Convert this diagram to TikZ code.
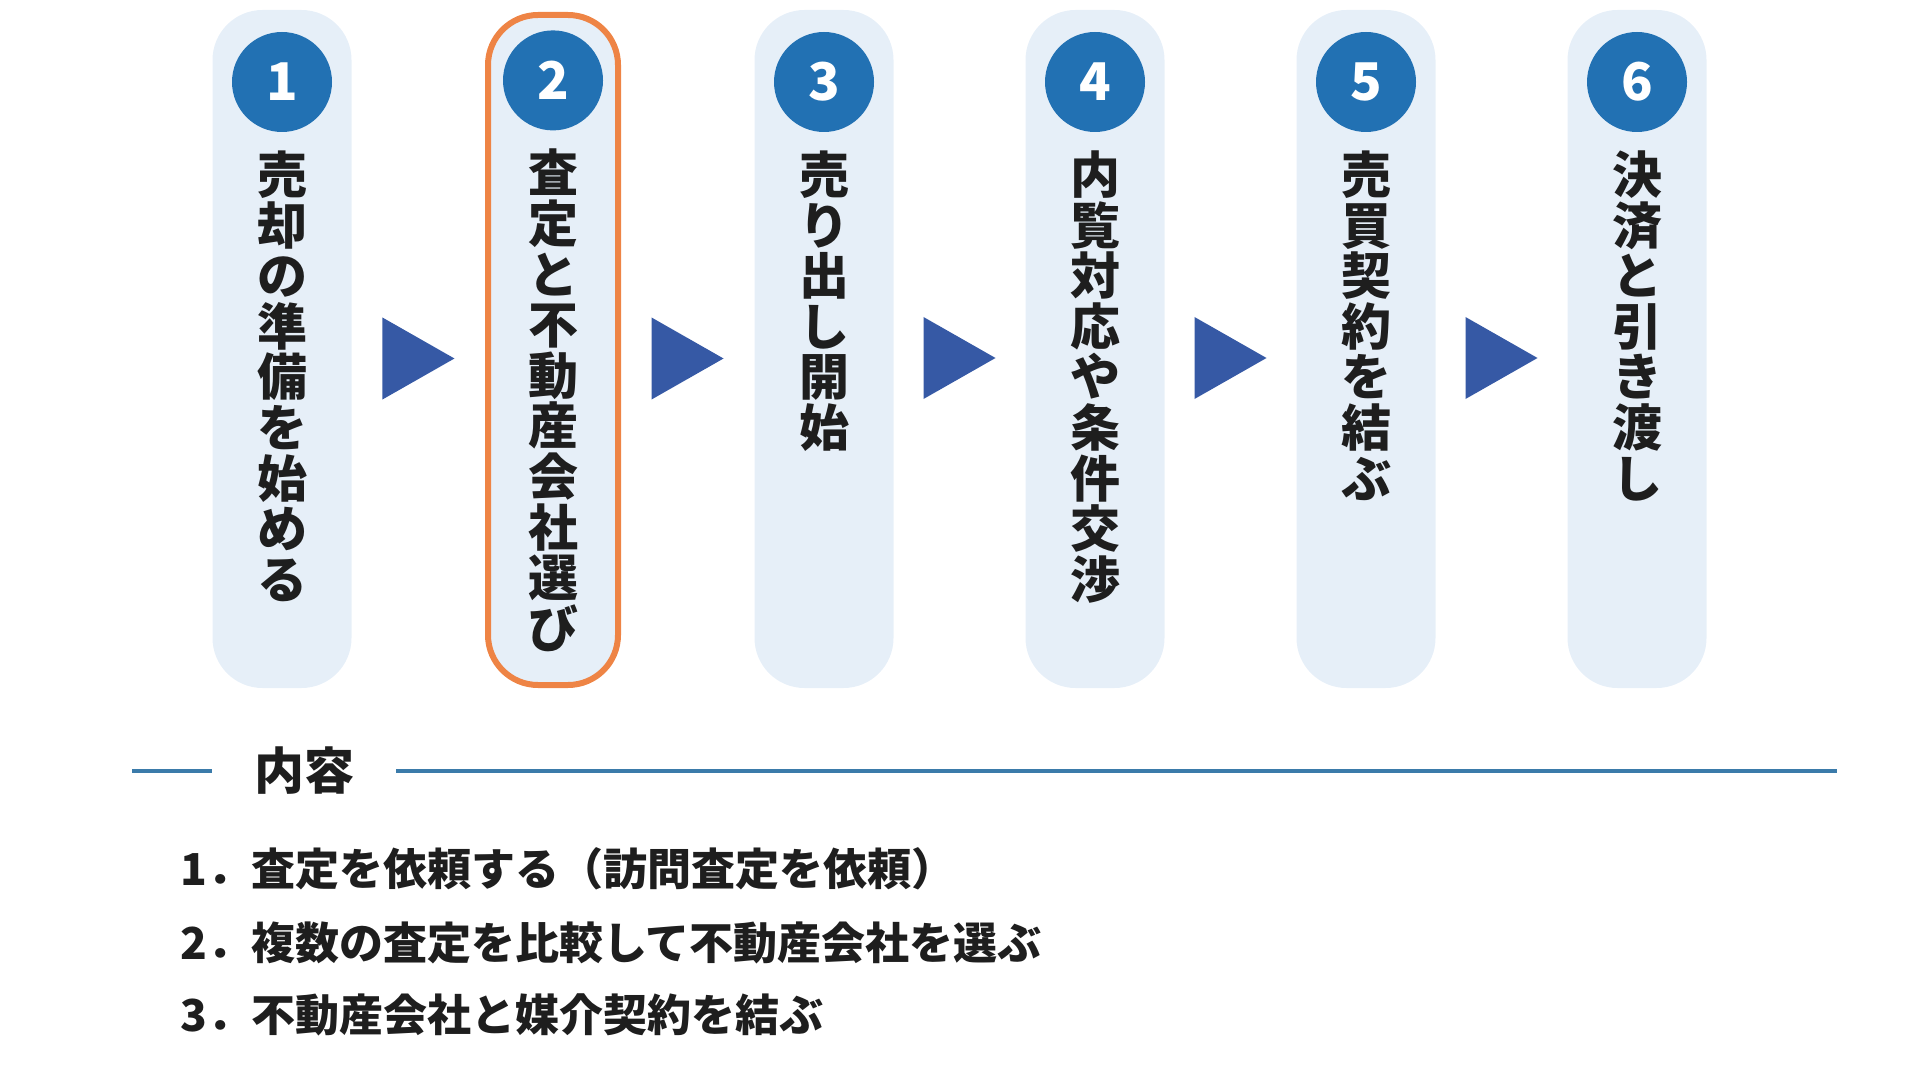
\documentclass[tikz,border=0pt]{standalone}
\usepackage{fontspec}
\setmainfont{Noto Sans CJK JP}
\usepackage{tikz}
\usetikzlibrary{calc}
\usetikzlibrary{positioning}

\definecolor{boxbg}{HTML}{E6EFF8}
\definecolor{numblue}{HTML}{2271B3}
\definecolor{arrowblue}{HTML}{3659A5}
\definecolor{pickorange}{HTML}{EE8445}
\definecolor{ink}{HTML}{1E1E1E}
\definecolor{rulecol}{HTML}{3B7BAA}

\begin{document}
\begin{tikzpicture}[x=1pt, y=-1pt,
    stepbox/.style={rectangle, rounded corners=25pt, fill=boxbg, minimum width=69.5pt, minimum height=339pt, inner sep=0pt},
    chosen/.style={draw=pickorange, line width=3pt, minimum width=65pt, minimum height=335pt},
    numdot/.style={circle, fill=numblue, text=white, minimum size=50pt, inner sep=0pt, font=\bfseries\fontsize{26pt}{26pt}\selectfont},
    steptext/.style={align=center, inner sep=0pt, text=ink, font=\bfseries\fontsize{25pt}{25.3pt}\selectfont},
    pointer/.style={fill=arrowblue},
    rule/.style={draw=rulecol, line width=2pt},
    listitem/.style={anchor=west, inner sep=0pt, text=ink, font=\bfseries\fontsize{22pt}{22pt}\selectfont}
    ]
    \useasboundingbox (0,0) rectangle (960,540);

    \node[stepbox] (b1) at (141,174.5) {};
    \node[stepbox, chosen] (b2) at (276.5,175) {};
    \node[stepbox] (b3) at (412,174.5) {};
    \node[stepbox] (b4) at (547.5,174.5) {};
    \node[stepbox] (b5) at (683,174.5) {};
    \node[stepbox] (b6) at (818.5,174.5) {};

    \node[numdot, below=11pt of b1.north] (n1) {1};
    \node[numdot, below=9pt of b2.north] (n2) {2};
    \node[numdot, below=11pt of b3.north] (n3) {3};
    \node[numdot, below=11pt of b4.north] (n4) {4};
    \node[numdot, below=11pt of b5.north] (n5) {5};
    \node[numdot, below=11pt of b6.north] (n6) {6};

    \node[steptext, below=9pt of n1] (t1) {売\\却\\の\\準\\備\\を\\始\\め\\る};
    \node[steptext, below=9pt of n2] (t2) {査\\定\\と\\不\\動\\産\\会\\社\\選\\び};
    \node[steptext, below=9pt of n3] (t3) {売\\り\\出\\し\\開\\始};
    \node[steptext, below=9pt of n4] (t4) {内\\覧\\対\\応\\や\\条\\件\\交\\渉};
    \node[steptext, below=9pt of n5] (t5) {売\\買\\契\\約\\を\\結\\ぶ};
    \node[steptext, below=9pt of n6] (t6) {決\\済\\と\\引\\き\\渡\\し};

    \coordinate (a1) at ($(b1.east)!0.5!(b2.west)+(0,4.5)$);
    \coordinate (a2) at ($(b2.east)!0.5!(b3.west)+(0,4.5)$);
    \coordinate (a3) at ($(b3.east)!0.5!(b4.west)+(0,4.5)$);
    \coordinate (a4) at ($(b4.east)!0.5!(b5.west)+(0,4.5)$);
    \coordinate (a5) at ($(b5.east)!0.5!(b6.west)+(0,4.5)$);
    \fill[pointer] (a1) +(-18,-20.5) -- +(18,0) -- +(-18,20.5) -- cycle;
    \fill[pointer] (a2) +(-18,-20.5) -- +(18,0) -- +(-18,20.5) -- cycle;
    \fill[pointer] (a3) +(-18,-20.5) -- +(18,0) -- +(-18,20.5) -- cycle;
    \fill[pointer] (a4) +(-18,-20.5) -- +(18,0) -- +(-18,20.5) -- cycle;
    \fill[pointer] (a5) +(-18,-20.5) -- +(18,0) -- +(-18,20.5) -- cycle;

    \node[text=ink, inner xsep=21pt, inner ysep=0pt, font=\bfseries\fontsize{25pt}{25pt}\selectfont] (head) at (152,385.5) {内容};
    \coordinate (rl) at (66,385.5);
    \coordinate (rr) at (918.5,385.5);
    \draw[rule] (rl) -- (head.west);
    \draw[rule] (head.east) -- (rr);

    \node[listitem] (i1) at (90,434.5) {1．査定を依頼する（訪問査定を依頼）};
    \node[listitem, below=37pt of i1.west, anchor=west] (i2) {2．複数の査定を比較して不動産会社を選ぶ};
    \node[listitem, below=36pt of i2.west, anchor=west] (i3) {3．不動産会社と媒介契約を結ぶ};
\end{tikzpicture}
\end{document}
